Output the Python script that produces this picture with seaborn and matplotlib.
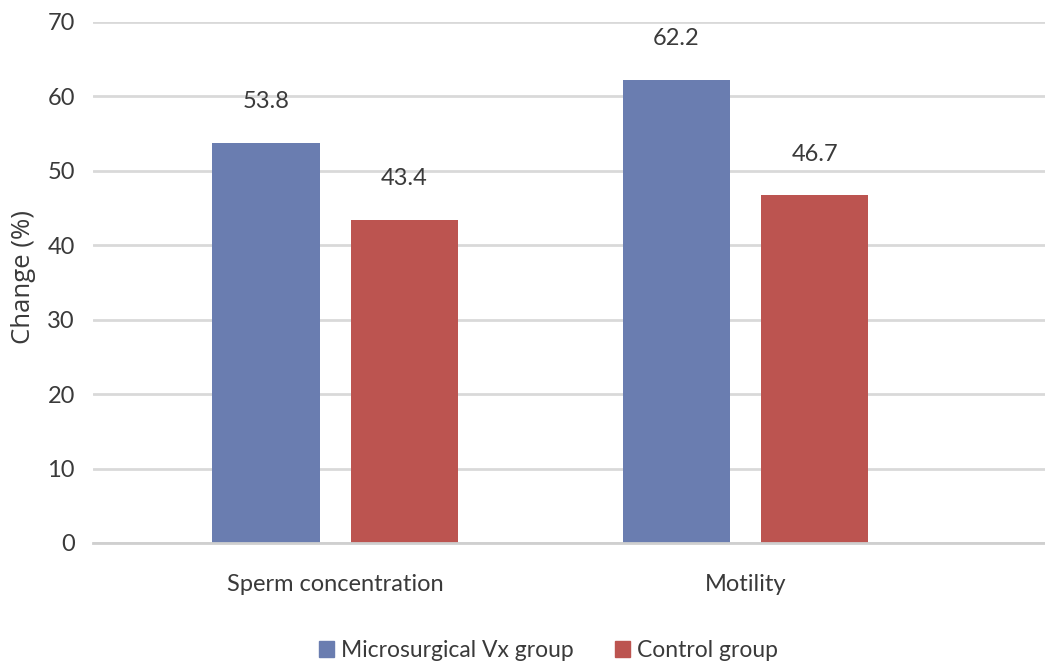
import matplotlib
matplotlib.use('Agg')
import matplotlib.pyplot as plt
import seaborn as sns
import pandas as pd

categories = ['Sperm concentration', 'Motility']
groups = ['Microsurgical Vx group', 'Control group']
microsurgical = [53.8, 62.2]
control = [43.4, 46.7]
colors = ['#6a7db0', '#bc5450']

df = pd.DataFrame({
    'category': categories * 2,
    'group': [groups[0]] * 2 + [groups[1]] * 2,
    'value': microsurgical + control,
})

sns.set_style('white')
plt.rcParams['font.family'] = ['Lato', 'DejaVu Sans']
txt = '#3a3a3a'

fig = plt.figure(figsize=(10.45, 6.65), dpi=100)
ax = fig.add_axes([0.089, 0.1835, 0.911, 0.7835])

sns.barplot(data=df, x='category', y='value', hue='group', palette=colors,
            saturation=1, width=0.674, gap=0.225, linewidth=0, ax=ax, legend=False)

for cont in ax.containers:
    ax.bar_label(cont, fmt='%.1f', padding=22, fontsize=17, color=txt)

ax.set_ylim(0, 70)
ax.set_yticks(range(0, 71, 10))
ax.set_xlim(-0.59, 1.73)
ax.yaxis.grid(True, color='#d9d9d9', linewidth=2)
ax.set_axisbelow(True)
for s in ['top', 'right', 'left']:
    ax.spines[s].set_visible(False)
ax.spines['bottom'].set_color('#cfcfcf')
ax.spines['bottom'].set_linewidth(2)
ax.tick_params(axis='y', length=0, labelsize=17, labelcolor=txt, pad=13)
ax.tick_params(axis='x', length=0, labelsize=17, labelcolor=txt, pad=22)
ax.set_xlabel('')
ax.set_ylabel('Change (%)', fontsize=18.5, color=txt, family=['Open Sans', 'DejaVu Sans'])
ax.yaxis.set_label_coords(-0.06, 0.51)

handles = [plt.Rectangle((0, 0), 1, 1, color=c) for c in colors]
fig.legend(handles, groups, loc='lower center', bbox_to_anchor=(0.525, -0.025), ncol=2,
           frameon=False, fontsize=16.5, handlelength=0.65, handleheight=0.65,
           handletextpad=0.3, columnspacing=1.8, labelcolor=txt)

fig.savefig('out.png', dpi=100)
